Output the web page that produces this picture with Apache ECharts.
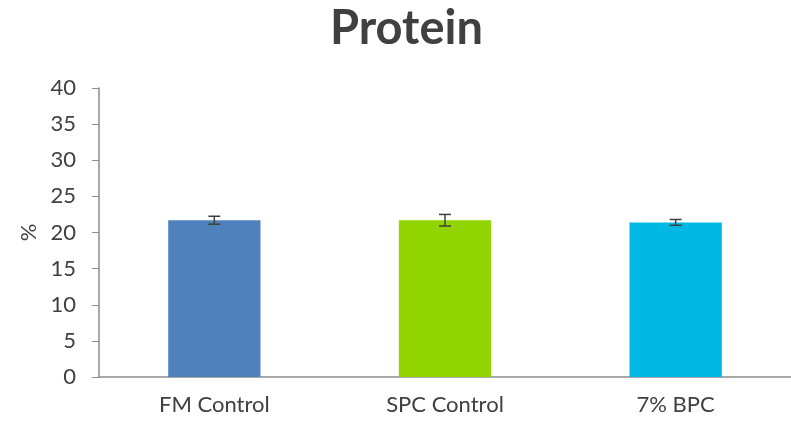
<!DOCTYPE html>
<html><head><meta charset="utf-8">
<script src="https://cdn.jsdelivr.net/npm/echarts@6/dist/echarts.min.js"></script>
<style>html,body{margin:0;padding:0;background:#fff}#c{width:791px;height:425px}</style>
</head><body><div id="c"></div>
<script>
const categories = ['FM Control', 'SPC Control', '7% BPC'];
const values = [21.7, 21.7, 21.4];
const errors = [0.55, 0.8, 0.4];
const colors = ['#4F81BD', '#92D400', '#00B8E4'];
const yTicks = [0, 5, 10, 15, 20, 25, 30, 35, 40];

const chart = echarts.init(document.getElementById('c'));
const font = 'Lato, "Open Sans", sans-serif';
chart.setOption({
  animation: false,
  title: { text: 'Protein', left: 325, top: 0, textStyle: { fontFamily: font, fontSize: 47, fontWeight: 'bold', color: '#404040' } },
  grid: { left: 99, right: -1, top: 88, bottom: 48 },
  xAxis: {
    type: 'category', data: categories,
    axisLine: { lineStyle: { color: '#8c8c8c', width: 1.5 } },
    axisTick: { length: 6, lineStyle: { color: '#8c8c8c' } },
    axisLabel: { fontFamily: font, fontSize: 22, color: '#404040', margin: 17 }
  },
  yAxis: {
    type: 'value', min: 0, max: 40, interval: 5,
    name: '%', nameLocation: 'middle', nameGap: 57, nameRotate: 90,
    nameTextStyle: { fontFamily: font, fontSize: 22, color: '#404040' },
    splitLine: { show: false },
    axisLine: { show: true, lineStyle: { color: '#8c8c8c', width: 1.5 } },
    axisTick: { show: true, inside: false, length: 7, lineStyle: { color: '#8c8c8c' } },
    axisLabel: { fontFamily: font, fontSize: 22, color: '#404040', margin: 23 }
  },
  series: [
    {
      type: 'bar', barWidth: '40%',
      data: values.map((v, i) => ({ value: v, itemStyle: { color: colors[i] } }))
    },
    {
      type: 'custom', z: 10,
      data: values.map((v, i) => [i, v - errors[i], v + errors[i]]),
      renderItem: function (params, api) {
        const lo = api.coord([api.value(0), api.value(1)]);
        const hi = api.coord([api.value(0), api.value(2)]);
        const hw = 6;
        const st = { stroke: '#404040', lineWidth: 1.5 };
        return { type: 'group', children: [
          { type: 'line', shape: { x1: lo[0], y1: lo[1], x2: hi[0], y2: hi[1] }, style: st },
          { type: 'line', shape: { x1: lo[0] - hw, y1: lo[1], x2: lo[0] + hw, y2: lo[1] }, style: st },
          { type: 'line', shape: { x1: hi[0] - hw, y1: hi[1], x2: hi[0] + hw, y2: hi[1] }, style: st }
        ] };
      }
    }
  ]
});
</script></body></html>
